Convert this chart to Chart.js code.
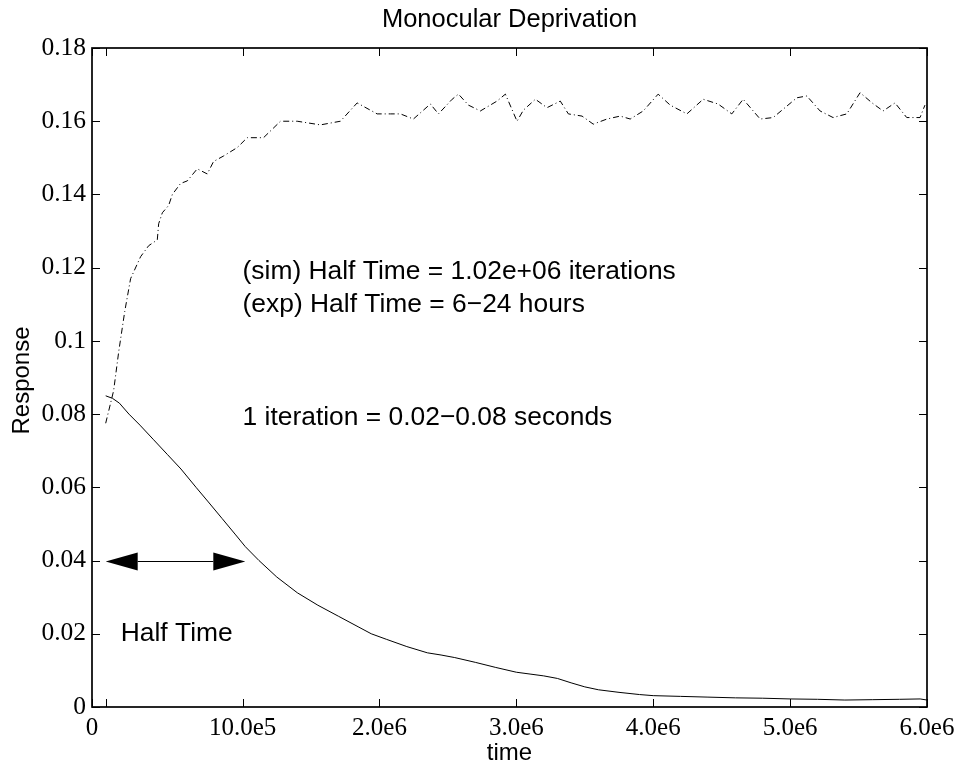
<!DOCTYPE html>
<html>
<head>
<meta charset="utf-8">
<script src="https://cdn.jsdelivr.net/npm/chart.js@4.4.1/dist/chart.umd.min.js"></script>
<style>
  body { margin: 0; background: #fff; }
  #wrap { width: 956px; height: 765px; }
</style>
</head>
<body>
<div id="wrap"><canvas id="chart" width="956" height="765"></canvas></div>
<script>
// solid line: response of the deprived eye
const solidX = [0, 0.05e6, 0.1e6, 0.17e6, 0.25e6, 0.35e6, 0.45e6, 0.55e6, 0.66e6, 0.75e6,
  0.85e6, 0.95e6, 1.02e6, 1.12e6, 1.25e6, 1.4e6, 1.55e6, 1.7e6, 1.85e6, 1.94e6,
  2.05e6, 2.2e6, 2.35e6, 2.45e6, 2.55e6, 2.7e6, 2.85e6, 3.0e6, 3.1e6, 3.2e6,
  3.3e6, 3.4e6, 3.5e6, 3.6e6, 3.75e6, 3.9e6, 4.0e6, 4.2e6, 4.4e6, 4.6e6,
  4.8e6, 5.0e6, 5.2e6, 5.4e6, 5.6e6, 5.8e6, 5.95e6, 6.0e6];
const solidY = [0.0850, 0.0843, 0.0830, 0.0800, 0.0770, 0.0730, 0.0690, 0.0650, 0.0600, 0.0560,
  0.0515, 0.0470, 0.0438, 0.0400, 0.0355, 0.0312, 0.0278, 0.0248, 0.0218, 0.0200,
  0.0185, 0.0165, 0.0148, 0.0142, 0.0135, 0.0122, 0.0108, 0.0095, 0.0090, 0.0085,
  0.0078, 0.0066, 0.0055, 0.0047, 0.0040, 0.0034, 0.0031, 0.0029, 0.0027, 0.0025,
  0.0024, 0.0022, 0.0021, 0.0019, 0.0020, 0.0021, 0.0022, 0.0019];

// dash-dot line: response of the open eye
const dashX = [0, 0.058e6, 0.095e6, 0.139e6, 0.182e6, 0.255e6, 0.314e6, 0.377e6, 0.387e6, 0.414e6,
  0.46e6, 0.487e6, 0.547e6, 0.596e6, 0.669e6, 0.742e6, 0.788e6, 0.861e6, 0.961e6, 1.034e6,
  1.153e6, 1.277e6, 1.399e6, 1.569e6, 1.715e6, 1.837e6, 1.983e6, 2.08e6, 2.153e6, 2.248e6,
  2.372e6, 2.431e6, 2.531e6, 2.577e6, 2.65e6, 2.737e6, 2.859e6, 2.92e6, 3.005e6, 3.051e6,
  3.139e6, 3.224e6, 3.321e6, 3.38e6, 3.48e6, 3.562e6, 3.662e6, 3.759e6, 3.832e6, 3.927e6,
  4.036e6, 4.124e6, 4.246e6, 4.365e6, 4.474e6, 4.574e6, 4.657e6, 4.781e6, 4.876e6, 5.049e6,
  5.122e6, 5.219e6, 5.314e6, 5.414e6, 5.511e6, 5.599e6, 5.679e6, 5.766e6, 5.852e6, 5.949e6,
  5.985e6];
const dashY = [0.0775, 0.0864, 0.097, 0.108, 0.117, 0.123, 0.126, 0.1276, 0.132, 0.135,
  0.137, 0.140, 0.143, 0.1437, 0.147, 0.1456, 0.149, 0.1505, 0.1528, 0.1555,
  0.1555, 0.160, 0.160, 0.159, 0.160, 0.165, 0.162, 0.162, 0.162, 0.1606,
  0.1647, 0.162, 0.166, 0.1674, 0.1644, 0.1628, 0.1655, 0.1674, 0.160, 0.163,
  0.166, 0.1637, 0.1655, 0.162, 0.1614, 0.1592, 0.1606, 0.1614, 0.1606, 0.1628,
  0.1674, 0.1644, 0.162, 0.166, 0.1647, 0.162, 0.166, 0.1606, 0.161, 0.1664,
  0.1669, 0.1628, 0.161, 0.162, 0.1678, 0.165, 0.1628, 0.165, 0.161, 0.161,
  0.1644];

// axes
const xMin = -0.1e6, xMax = 6e6;
const xTickValues = [-0.1e6, 0, 1e6, 2e6, 3e6, 4e6, 5e6, 6e6];
const xTickLabels = ["0", "", "10.0e5", "2.0e6", "3.0e6", "4.0e6", "5.0e6", "6.0e6"];
const yTickValues = [0, 0.02, 0.04, 0.06, 0.08, 0.1, 0.12, 0.14, 0.16, 0.18];
const yTickLabels = ["0", "0.02", "0.04", "0.06", "0.08", "0.1", "0.12", "0.14", "0.16", "0.18"];

// text and half time arrow
const titleText = "Monocular Deprivation";
const xTitle = "time";
const yTitle = "Response";
const notes = [
  { text: "(sim) Half Time = 1.02e+06 iterations", x: 1.0e6, y: 0.119 },
  { text: "(exp) Half Time = 6\u221224 hours", x: 1.0e6, y: 0.110 },
  { text: "1 iteration = 0.02\u22120.08 seconds", x: 1.0e6, y: 0.0791 },
  { text: "Half Time", x: 0.11e6, y: 0.0201 }
];
const arrowFrom = 0, arrowTo = 1.02e6, arrowY = 0.04;

const SANS = "'Liberation Sans', Arial, sans-serif";
const SERIF = "'Liberation Serif', 'Times New Roman', serif";

const toPoints = (xs, ys) => xs.map((v, i) => ({ x: v, y: ys[i] }));

const framePlugin = {
  id: "frame",
  afterDraw(chart) {
    const { ctx, chartArea: a, scales: { x, y } } = chart;
    ctx.save();
    ctx.strokeStyle = "#000";
    ctx.fillStyle = "#000";

    // inward ticks on all four sides
    ctx.lineWidth = 1;
    const tl = 8;
    ctx.beginPath();
    xTickValues.forEach((v) => {
      const px = Math.round(x.getPixelForValue(v)) + 0.5;
      ctx.moveTo(px, a.bottom); ctx.lineTo(px, a.bottom - tl);
      ctx.moveTo(px, a.top); ctx.lineTo(px, a.top + tl);
    });
    yTickValues.forEach((v) => {
      const py = Math.round(y.getPixelForValue(v)) + 0.5;
      ctx.moveTo(a.left, py); ctx.lineTo(a.left + tl, py);
      ctx.moveTo(a.right, py); ctx.lineTo(a.right - tl, py);
    });
    ctx.stroke();

    ctx.lineWidth = 1.7;
    ctx.strokeRect(a.left, a.top, a.right - a.left, a.bottom - a.top);

    // double arrow
    const x0 = x.getPixelForValue(arrowFrom);
    const x1 = x.getPixelForValue(arrowTo);
    const ay = Math.round(y.getPixelForValue(arrowY)) + 0.5;
    const hl = 32, hw = 9;
    ctx.lineWidth = 1.2;
    ctx.beginPath();
    ctx.moveTo(x0 + hl, ay); ctx.lineTo(x1 - hl, ay);
    ctx.stroke();
    ctx.beginPath();
    ctx.moveTo(x0, ay); ctx.lineTo(x0 + hl, ay - hw); ctx.lineTo(x0 + hl, ay + hw); ctx.closePath();
    ctx.moveTo(x1, ay); ctx.lineTo(x1 - hl, ay - hw); ctx.lineTo(x1 - hl, ay + hw); ctx.closePath();
    ctx.fill();

    // annotations
    ctx.font = "26.4px " + SANS;
    ctx.textAlign = "left";
    ctx.textBaseline = "middle";
    notes.forEach((n) => {
      ctx.fillText(n.text, x.getPixelForValue(n.x), y.getPixelForValue(n.y));
    });

    // title and axis titles
    const cx = (a.left + a.right) / 2;
    const cy = (a.top + a.bottom) / 2;
    ctx.textAlign = "center";
    ctx.font = "25.5px " + SANS;
    ctx.fillText(titleText, cx, 20);
    ctx.font = "24px " + SANS;
    ctx.fillText(xTitle, cx, 753);
    ctx.translate(22, cy + 3);
    ctx.rotate(-Math.PI / 2);
    ctx.fillText(yTitle, 0, 0);
    ctx.restore();
  }
};

const chart = new Chart(document.getElementById("chart"), {
  type: "line",
  data: {
    datasets: [
      {
        label: "deprived",
        data: toPoints(solidX, solidY),
        borderColor: "#000",
        borderWidth: 1,
        pointRadius: 0,
        tension: 0
      },
      {
        label: "open",
        data: toPoints(dashX, dashY),
        borderColor: "#000",
        borderWidth: 1,
        borderDash: [6, 3, 1, 3],
        pointRadius: 0,
        tension: 0
      }
    ]
  },
  options: {
    responsive: false,
    animation: false,
    devicePixelRatio: 1,
    layout: { padding: { top: 48, right: 29, left: 0, bottom: 0 } },
    plugins: { legend: { display: false }, tooltip: { enabled: false } },
    scales: {
      x: {
        type: "linear",
        min: xMin,
        max: xMax,
        afterBuildTicks: (s) => { s.ticks = xTickValues.map((v) => ({ value: v })); },
        afterFit: (s) => { s.height = 58; s.paddingLeft = 0; s.paddingRight = 0; },
        grid: { display: false, drawTicks: false, tickLength: 0 },
        border: { display: false },
        ticks: {
          color: "#000",
          padding: 6,
          maxRotation: 0,
          autoSkip: false,
          font: { family: SERIF, size: 25 },
          callback: (v, i) => xTickLabels[i]
        }
      },
      y: {
        min: 0,
        max: 0.18,
        afterBuildTicks: (s) => { s.ticks = yTickValues.map((v) => ({ value: v })); },
        afterFit: (s) => { s.width = 92; s.paddingTop = 0; s.paddingBottom = 0; },
        grid: { display: false, drawTicks: false, tickLength: 0 },
        border: { display: false },
        ticks: {
          color: "#000",
          padding: 6,
          autoSkip: false,
          font: { family: SERIF, size: 25.5 },
          callback: (v, i) => yTickLabels[i]
        }
      }
    }
  },
  plugins: [framePlugin]
});
</script>
</body>
</html>
